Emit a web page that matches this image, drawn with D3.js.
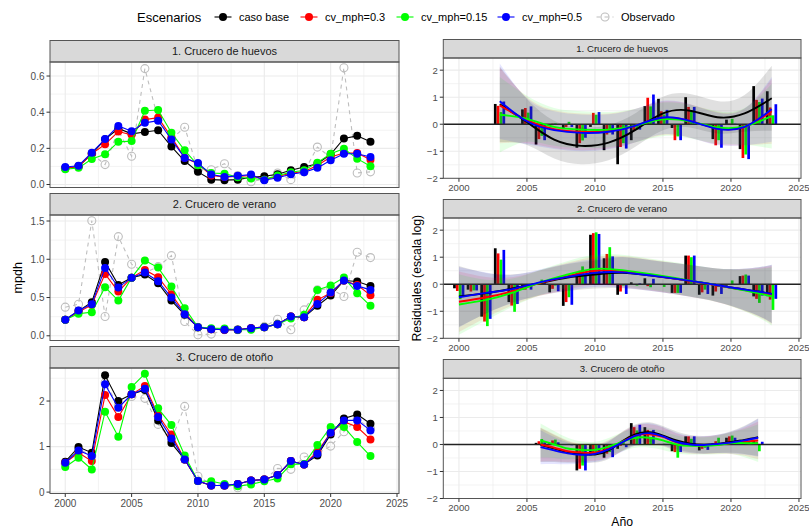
<!DOCTYPE html>
<html><head><meta charset="utf-8">
<script src="https://cdn.jsdelivr.net/npm/d3@7"></script>
<style>body{margin:0;background:#fff;} text{font-family:"Liberation Sans",Arial,Helvetica,sans-serif;}</style>
</head><body><svg id="c" width="809" height="529"></svg>
<script>
// ---------------- DATA ----------------
const years = [2000,2001,2002,2003,2004,2005,2006,2007,2008,2009,2010,2011,2012,2013,2014,2015,2016,2017,2018,2019,2020,2021,2022,2023];
const scenarios = ["caso base","cv_mph=0.3","cv_mph=0.15","cv_mph=0.5"];
const scenarioColors = ["#000000","#FF0000","#00FF00","#0000FF"];
const obsLabel = "Observado";
const obsColor = "#BEBEBE";
const cruceros = ["1. Crucero de huevos","2. Crucero de verano","3. Crucero de otoño"];
const xTicks = [2000,2005,2010,2015,2020,2025];

// Left: mpdh per crucero (caso base, 0.3, 0.15, 0.5, observado)
const huevosBase  = [0.090,0.100,0.170,0.250,0.310,0.280,0.290,0.300,0.210,0.130,0.070,0.027,0.024,0.027,0.040,0.046,0.057,0.079,0.097,0.115,0.167,0.255,0.269,0.236];
const huevos03    = [0.090,0.100,0.170,0.222,0.293,0.275,0.359,0.370,0.262,0.148,0.115,0.050,0.042,0.045,0.050,0.027,0.045,0.062,0.072,0.105,0.152,0.174,0.174,0.137];
const huevos015   = [0.084,0.092,0.141,0.167,0.236,0.240,0.408,0.412,0.286,0.189,0.106,0.064,0.060,0.040,0.033,0.027,0.050,0.068,0.079,0.121,0.170,0.198,0.143,0.101];
const huevos05    = [0.097,0.104,0.176,0.251,0.324,0.295,0.341,0.353,0.249,0.147,0.119,0.055,0.042,0.048,0.055,0.024,0.037,0.057,0.068,0.092,0.134,0.170,0.170,0.152];
const huevosObs   = [0.090,0.100,0.170,0.110,0.300,0.156,0.641,0.360,0.250,0.317,0.080,0.082,0.115,0.050,0.015,0.030,0.064,0.027,0.070,0.207,0.150,0.646,0.064,0.070];

const veranoBase  = [0.209,0.326,0.439,0.965,0.665,0.760,0.800,0.687,0.460,0.274,0.113,0.087,0.078,0.078,0.100,0.113,0.152,0.252,0.243,0.391,0.526,0.722,0.709,0.652];
const verano03    = [0.209,0.310,0.404,0.809,0.578,0.760,0.861,0.765,0.543,0.296,0.113,0.087,0.078,0.078,0.100,0.113,0.152,0.252,0.243,0.470,0.560,0.722,0.665,0.530];
const verano015   = [0.209,0.287,0.309,0.635,0.461,0.760,0.983,0.891,0.643,0.361,0.113,0.100,0.095,0.078,0.078,0.113,0.152,0.226,0.274,0.600,0.657,0.761,0.557,0.391];
const verano05    = [0.209,0.330,0.413,0.887,0.630,0.760,0.826,0.713,0.500,0.283,0.113,0.087,0.078,0.078,0.100,0.113,0.152,0.252,0.243,0.417,0.565,0.722,0.652,0.600];
const veranoObs   = [0.374,0.413,1.504,0.252,1.296,0.935,0.820,0.904,1.048,0.187,0.013,0.022,0.078,0.080,0.090,0.120,0.217,0.078,0.339,0.600,0.620,0.513,1.091,1.022];

const otonoBase   = [0.667,0.989,0.864,2.564,2.000,2.147,2.242,1.575,1.077,0.718,0.242,0.147,0.147,0.180,0.256,0.278,0.374,0.681,0.608,0.806,1.267,1.619,1.707,1.502];
const otono03     = [0.645,0.864,0.681,2.132,1.648,2.147,2.330,1.692,1.267,0.718,0.242,0.147,0.147,0.180,0.256,0.278,0.374,0.681,0.608,0.886,1.304,1.546,1.429,1.158];
const otono015    = [0.550,0.755,0.498,1.766,1.216,2.308,2.600,1.839,1.473,0.806,0.242,0.240,0.180,0.130,0.170,0.240,0.300,0.610,0.620,1.033,1.429,1.429,1.099,0.791];
const otono05     = [0.645,0.916,0.791,2.366,1.853,2.147,2.271,1.648,1.180,0.718,0.242,0.147,0.147,0.180,0.256,0.278,0.374,0.681,0.608,0.842,1.304,1.575,1.575,1.355];
const otonoObs    = [0.630,0.950,0.800,2.400,1.900,2.100,2.059,1.487,1.150,1.883,0.350,0.170,0.150,0.095,0.220,0.270,0.520,0.500,0.770,0.850,1.010,1.326,1.600,1.400];

// Right: residuals (log scale), bars per year and scenario
const resHuevosYears = [2003,2005,2006,2007,2008,2009,2010,2011,2012,2013,2014,2015,2016,2017,2018,2019,2020,2021,2022,2023];
const resHuevosBase  = [0.75,0.55,-0.75,-0.02,-0.18,-0.87,-0.10,-0.96,-1.48,-0.59,0.67,0.94,-0.14,1.00,0.02,-0.55,0.17,-0.92,1.41,1.22];
const resHuevos03    = [0.68,0.60,-0.55,0.02,-0.10,-0.70,0.42,-0.38,-0.84,-0.22,0.98,0.48,-0.59,0.64,-0.02,-0.78,0.02,-1.25,0.90,0.62];
const resHuevos015   = [0.45,0.43,-0.43,0.03,0.09,-0.60,0.35,-0.30,-0.70,-0.20,0.66,0.36,-0.45,0.52,-0.03,-0.59,0.20,-1.12,0.82,0.33];
const resHuevos05    = [0.84,0.66,-0.59,-0.02,-0.10,-0.50,0.45,-0.38,-0.90,-0.20,1.10,0.53,-0.59,0.64,-0.04,-0.87,0.02,-1.29,0.95,0.74];

const resVeranoYears = years;
const resVeranoBase  = [-0.15,-0.20,-1.20,1.33,-0.66,-0.20,0.02,-0.30,-0.80,0.42,1.83,0.96,-0.39,0.07,0.22,-0.02,-0.32,1.06,-0.39,-0.42,-0.05,0.30,-0.45,-0.44];
const resVerano03    = [-0.25,-0.27,-1.38,1.14,-0.79,-0.20,0.05,-0.17,-0.66,0.50,1.89,1.12,-0.27,0.00,-0.07,-0.03,-0.32,1.06,-0.30,-0.27,0.00,0.32,-0.54,-0.57];
const resVerano015   = [-0.55,-0.23,-1.55,0.91,-1.02,-0.05,0.17,-0.05,-0.48,0.66,1.92,1.37,-0.05,-0.05,-0.11,-0.10,-0.32,1.00,-0.20,-0.10,0.14,0.36,-0.69,-0.95];
const resVerano05    = [-0.45,-0.23,-1.28,1.27,-0.73,-0.20,0.10,-0.26,-0.76,0.38,1.86,1.03,-0.36,0.03,0.20,-0.02,-0.32,1.06,-0.36,-0.36,0.00,0.32,-0.42,-0.54];

const resOtonoYears = [2006,2007,2008,2009,2010,2011,2012,2013,2014,2015,2016,2017,2018,2019,2020,2021,2022];
const resOtonoBase  = [0.06,0.05,0.00,-0.96,-0.40,-0.49,-0.16,0.79,0.64,0.02,-0.25,0.30,-0.22,0.05,0.25,0.17,0.17];
const resOtono03    = [0.12,0.15,-0.02,-0.90,-0.35,-0.34,-0.05,0.64,0.54,0.00,-0.28,0.30,-0.16,0.12,0.30,0.15,0.10];
const resOtono015   = [0.20,0.18,0.02,-0.78,-0.28,-0.28,0.15,0.52,0.27,0.03,-0.49,0.21,-0.12,0.25,0.33,0.12,-0.25];
const resOtono05    = [0.08,0.08,-0.03,-0.96,-0.35,-0.47,-0.10,0.73,0.54,0.02,-0.28,0.30,-0.20,0.05,0.25,0.11,0.10];

// Smooth (loess) fits, with ribbon half-widths
const smHuevosYears = [2003,2005,2007,2009,2011,2013,2015,2017,2019,2021,2023];
const smHuevosBase  = [0.74,0.08,-0.57,-0.80,-0.68,-0.20,0.40,0.50,0.26,0.40,0.96];
const smHuevos03    = [0.70,0.15,-0.18,-0.28,-0.25,-0.05,0.22,0.12,-0.15,-0.10,0.48];
const smHuevos015   = [0.35,0.20,-0.10,-0.20,-0.20,-0.05,0.18,0.10,-0.12,-0.08,0.30];
const smHuevos05    = [0.85,0.11,-0.22,-0.32,-0.28,-0.05,0.25,0.12,-0.17,-0.10,0.55];
const smHuevosHW    = [1.40,0.85,0.70,0.68,0.65,0.62,0.62,0.62,0.60,0.68,1.20];

const smVeranoYears = [2000,2002,2004,2006,2008,2010,2012,2014,2016,2018,2020,2022,2023];
const smVeranoBase  = [-0.45,-0.33,-0.15,0.05,0.25,0.36,0.42,0.33,0.20,0.05,-0.12,-0.27,-0.36];
const smVerano03    = [-0.65,-0.48,-0.25,0.05,0.30,0.50,0.47,0.35,0.20,0.04,-0.13,-0.30,-0.40];
const smVerano015   = [-0.75,-0.58,-0.30,0.07,0.36,0.57,0.52,0.38,0.22,0.05,-0.13,-0.33,-0.45];
const smVerano05    = [-0.48,-0.32,-0.17,0.08,0.27,0.42,0.44,0.33,0.20,0.05,-0.12,-0.27,-0.36];
const smVeranoHW    = [1.12,0.75,0.52,0.47,0.50,0.52,0.57,0.57,0.58,0.60,0.68,0.90,1.08];

const smOtonoYears = [2006,2007,2008,2009,2010,2011,2012,2013,2014,2015,2016,2017,2018,2019,2020,2021,2022];
const smOtonoBase  = [-0.02,-0.15,-0.28,-0.35,-0.37,-0.22,0.12,0.38,0.45,0.33,0.15,0.03,-0.01,0.02,0.09,0.17,0.27];
const smOtono03    = [0.00,-0.12,-0.25,-0.30,-0.30,-0.15,0.10,0.33,0.38,0.28,0.08,-0.02,-0.03,0.00,0.05,0.10,0.15];
const smOtono015   = [0.15,0.00,-0.15,-0.20,-0.20,-0.08,0.10,0.25,0.25,0.15,0.00,-0.05,-0.05,-0.02,0.05,0.05,0.05];
const smOtono05    = [-0.10,-0.22,-0.33,-0.38,-0.35,-0.18,0.08,0.33,0.42,0.30,0.10,0.00,-0.02,0.02,0.07,0.15,0.25];
const smOtonoHW    = [0.63,0.50,0.40,0.32,0.30,0.32,0.35,0.37,0.37,0.35,0.33,0.32,0.32,0.34,0.40,0.52,0.70];

const leftYTicks = [[0,0.2,0.4,0.6],[0,0.5,1.0,1.5],[0,1,2]];
const leftYLabels = [["0.0","0.2","0.4","0.6"],["0.0","0.5","1.0","1.5"],["0","1","2"]];
const rightYTicks = [-2,-1,0,1,2];

// ---------------- BUILD ----------------
const leftSeries = [
  {model:[huevosBase,huevos03,huevos015,huevos05], obs:huevosObs},
  {model:[veranoBase,verano03,verano015,verano05], obs:veranoObs},
  {model:[otonoBase,otono03,otono015,otono05], obs:otonoObs}
];
const rightSeries = [
  {years:resHuevosYears, res:[resHuevosBase,resHuevos03,resHuevos015,resHuevos05],
   smYears:smHuevosYears, sm:[smHuevosBase,smHuevos03,smHuevos015,smHuevos05], hw:smHuevosHW},
  {years:resVeranoYears, res:[resVeranoBase,resVerano03,resVerano015,resVerano05],
   smYears:smVeranoYears, sm:[smVeranoBase,smVerano03,smVerano015,smVerano05], hw:smVeranoHW},
  {years:resOtonoYears, res:[resOtonoBase,resOtono03,resOtono015,resOtono05],
   smYears:smOtonoYears, sm:[smOtonoBase,smOtono03,smOtono015,smOtono05], hw:smOtonoHW}
];

const svg = d3.select("#c");
const GRID = "#EBEBEB", BORDER = "#555555", STRIP = "#D9D9D9", TICKTXT = "#4D4D4D";
const xDomain = [1998.85, 2025.15];
const minorX = [2002.5,2007.5,2012.5,2017.5,2022.5];
const defs = svg.append("defs");

function drawFrame(g, x, y, x0, x1, top, bottom, stripTop, title, stripFont, yMajor, yMinor, id) {
  // background
  g.append("rect").attr("x",x0).attr("y",top).attr("width",x1-x0).attr("height",bottom-top).attr("fill","#fff");
  // grid
  g.selectAll(null).data(yMinor).enter().append("line")
    .attr("x1",x0).attr("x2",x1).attr("y1",d=>y(d)).attr("y2",d=>y(d)).attr("stroke",GRID).attr("stroke-width",0.6);
  g.selectAll(null).data(minorX).enter().append("line")
    .attr("y1",top).attr("y2",bottom).attr("x1",d=>x(d)).attr("x2",d=>x(d)).attr("stroke",GRID).attr("stroke-width",0.6);
  g.selectAll(null).data(yMajor).enter().append("line")
    .attr("x1",x0).attr("x2",x1).attr("y1",d=>y(d)).attr("y2",d=>y(d)).attr("stroke",GRID).attr("stroke-width",1.1);
  g.selectAll(null).data(xTicks.filter(d=>x(d)<=x1)).enter().append("line")
    .attr("y1",top).attr("y2",bottom).attr("x1",d=>x(d)).attr("x2",d=>x(d)).attr("stroke",GRID).attr("stroke-width",1.1);
  // strip
  g.append("rect").attr("x",x0).attr("y",stripTop).attr("width",x1-x0).attr("height",top-stripTop)
    .attr("fill",STRIP).attr("stroke",BORDER).attr("stroke-width",1);
  g.append("text").attr("x",(x0+x1)/2).attr("y",(stripTop+top)/2).attr("dy","0.35em")
    .attr("text-anchor","middle").attr("font-size",stripFont).attr("fill","#1A1A1A").text(title);
  defs.append("clipPath").attr("id",id).append("rect").attr("x",x0).attr("y",top).attr("width",x1-x0).attr("height",bottom-top);
}
function drawBorder(g, x0, x1, top, bottom){
  g.append("rect").attr("x",x0).attr("y",top).attr("width",x1-x0).attr("height",bottom-top)
    .attr("fill","none").attr("stroke",BORDER).attr("stroke-width",1);
}
function yAxis(g, y, x0, ticks, labels, fs){
  ticks.forEach((t,i)=>{
    g.append("line").attr("x1",x0-3.5).attr("x2",x0).attr("y1",y(t)).attr("y2",y(t)).attr("stroke","#333").attr("stroke-width",1);
    g.append("text").attr("x",x0-5.5).attr("y",y(t)).attr("dy","0.35em").attr("text-anchor","end")
      .attr("font-size",fs).attr("fill",TICKTXT).text(labels[i]);
  });
}
function xAxis(g, x, bottom, fs){
  xTicks.forEach(t=>{
    g.append("line").attr("x1",x(t)).attr("x2",x(t)).attr("y1",bottom).attr("y2",bottom+3.5).attr("stroke","#333").attr("stroke-width",1);
    g.append("text").attr("x",x(t)).attr("y",bottom+5).attr("dy","0.8em").attr("text-anchor","middle")
      .attr("font-size",fs).attr("fill",TICKTXT).text(String(t));
  });
}

// ---------- LEFT ----------
const L = {x0:50, x1:399, panels:[{s:40.5,t:62,b:187.5},{s:193.5,t:215,b:340.5},{s:346.5,t:368,b:493.5}]};
const xl = d3.scaleLinear().domain(xDomain).range([L.x0, L.x1]);
leftSeries.forEach((ps, pi)=>{
  const P = L.panels[pi];
  const all = ps.model.flat().concat(ps.obs);
  const ext = d3.extent(all), pad = (ext[1]-ext[0])*0.05;
  const y = d3.scaleLinear().domain([ext[0]-pad, ext[1]+pad]).range([P.b, P.t]);
  const tk = leftYTicks[pi];
  const minor = tk.slice(0,-1).map((t,i)=>(t+tk[i+1])/2).concat([tk[tk.length-1]+(tk[1]-tk[0])/2]).filter(v=>v<=y.domain()[1]);
  const g = svg.append("g");
  drawFrame(g, xl, y, L.x0, L.x1, P.t, P.b, P.s, cruceros[pi], 11, tk, minor, "cl"+pi);
  const pg = g.append("g").attr("clip-path",`url(#cl${pi})`);
  const line = d3.line().x((d,i)=>xl(years[i])).y(d=>y(d));
  // observed
  pg.append("path").attr("d",line(ps.obs)).attr("fill","none").attr("stroke",obsColor).attr("stroke-width",1.1).attr("stroke-dasharray","4,4");
  pg.selectAll(null).data(ps.obs).enter().append("circle")
    .attr("cx",(d,i)=>xl(years[i])).attr("cy",d=>y(d)).attr("r",4).attr("fill","none").attr("stroke",obsColor).attr("stroke-width",1.1);
  ps.model.forEach((vals, si)=>{
    pg.append("path").attr("d",line(vals)).attr("fill","none").attr("stroke",scenarioColors[si]).attr("stroke-width",1.1);
    pg.selectAll(null).data(vals).enter().append("circle")
      .attr("cx",(d,i)=>xl(years[i])).attr("cy",d=>y(d)).attr("r",4).attr("fill",scenarioColors[si]);
  });
  drawBorder(g, L.x0, L.x1, P.t, P.b);
  yAxis(g, y, L.x0, tk, leftYLabels[pi], 10);
  if (pi===2) xAxis(g, xl, P.b, 10);
});
svg.append("text").attr("transform",`translate(22,${(L.panels[0].t+L.panels[2].b)/2}) rotate(-90)`)
  .attr("text-anchor","middle").attr("font-size",12.5).attr("fill","#000").text("mpdh");

// ---------- RIGHT ----------
const R = {x0:443.3, x1:801, panels:[{s:39.5,t:58,b:178.3},{s:199.5,t:218,b:338.3},{s:359.5,t:378.3,b:498.5}]};
const xr = d3.scaleLinear().domain(xDomain).range([R.x0, R.x1]);
const dodge = [-0.33,-0.12,0.09,0.30];
const barW = 2.7;
const ribbonOpacity = [0.12,0.1,0.1,0.1];
rightSeries.forEach((ps, pi)=>{
  const P = R.panels[pi];
  const y = d3.scaleLinear().domain([-2.0, 2.45]).range([P.b, P.t]);
  const g = svg.append("g");
  drawFrame(g, xr, y, R.x0, R.x1, P.t, P.b, P.s, cruceros[pi], 9.6, rightYTicks, [-1.5,-0.5,0.5,1.5], "cr"+pi);
  const pg = g.append("g").attr("clip-path",`url(#cr${pi})`);
  // bars
  ps.res.forEach((vals, si)=>{
    pg.selectAll(null).data(vals).enter().append("rect")
      .attr("x",(d,i)=>xr(ps.years[i]+dodge[si])-barW/2).attr("width",barW)
      .attr("y",d=>Math.min(y(0),y(d))).attr("height",d=>Math.abs(y(d)-y(0)))
      .attr("fill",scenarioColors[si]);
  });
  // zero line
  pg.append("line").attr("x1",R.x0).attr("x2",R.x1).attr("y1",y(0)).attr("y2",y(0)).attr("stroke","#222").attr("stroke-width",1.3);
  // ribbons
  ps.sm.forEach((vals, si)=>{
    const area = d3.area().curve(d3.curveNatural).x((d,i)=>xr(ps.smYears[i]))
      .y0((d,i)=>y(d-ps.hw[i])).y1((d,i)=>y(d+ps.hw[i]));
    pg.append("path").attr("d",area(vals)).attr("fill",scenarioColors[si]).attr("fill-opacity",ribbonOpacity[si]);
  });
  // smooth lines
  ps.sm.forEach((vals, si)=>{
    const ln = d3.line().curve(d3.curveNatural).x((d,i)=>xr(ps.smYears[i])).y(d=>y(d));
    pg.append("path").attr("d",ln(vals)).attr("fill","none").attr("stroke",scenarioColors[si]).attr("stroke-width",1.9);
  });
  drawBorder(g, R.x0, R.x1, P.t, P.b);
  yAxis(g, y, R.x0, rightYTicks, rightYTicks.map(v=>v<0?"\u2212"+Math.abs(v):String(v)), 9.6);
  xAxis(g, xr, P.b, 9.6);
});
svg.append("text").attr("transform",`translate(421,${(R.panels[0].t+R.panels[2].b)/2}) rotate(-90)`)
  .attr("text-anchor","middle").attr("font-size",12.2).attr("fill","#000").text("Residuales (escala log)");
svg.append("text").attr("x",(R.x0+R.x1)/2).attr("y",526).attr("text-anchor","middle")
  .attr("font-size",12.2).attr("fill","#000").text("Año");

// ---------- LEGEND ----------
const lg = svg.append("g");
const legY = 17;
lg.append("text").attr("x",137).attr("y",legY).attr("dy","0.35em").attr("font-size",13).attr("fill","#000").text("Escenarios");
const keyX = [223,309,405,506,605];
const legendItems = scenarios.map((s,i)=>({label:s,color:scenarioColors[i],obs:false})).concat([{label:obsLabel,color:obsColor,obs:true}]);
legendItems.forEach((it,i)=>{
  const cx = keyX[i];
  lg.append("line").attr("x1",cx-8.5).attr("x2",cx+8.5).attr("y1",legY).attr("y2",legY)
    .attr("stroke",it.color).attr("stroke-width",1.1).attr("stroke-dasharray",it.obs?"4,4":null);
  lg.append("circle").attr("cx",cx).attr("cy",legY).attr("r",4)
    .attr("fill",it.obs?"none":it.color).attr("stroke",it.obs?it.color:"none").attr("stroke-width",1.1);
  lg.append("text").attr("x",cx+16).attr("y",legY).attr("dy","0.35em").attr("font-size",11).attr("fill","#000").text(it.label);
});
</script></body></html>
